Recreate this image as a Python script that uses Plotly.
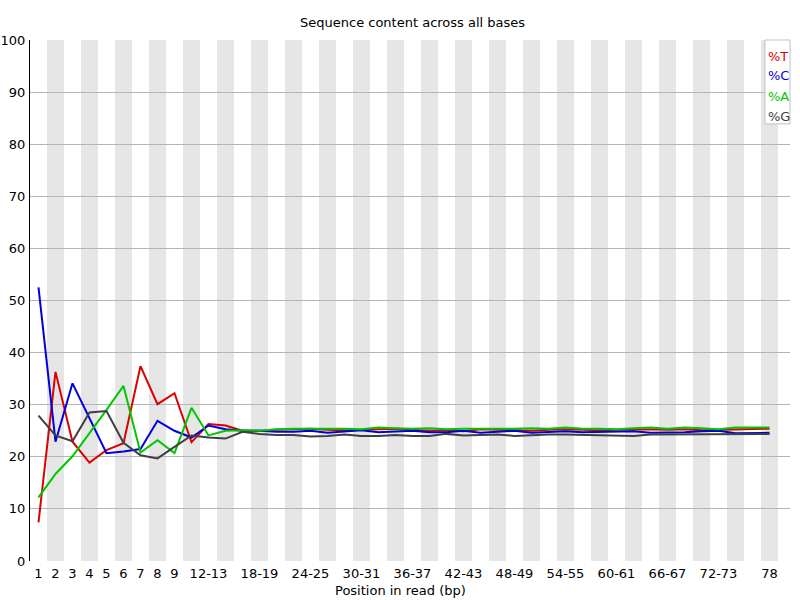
import plotly.graph_objects as go

categories = ["1", "2", "3", "4", "5", "6", "7", "8", "9"] + \
    [f"{a}-{a+1}" for a in range(10, 78, 2)] + ["78"]

tick_labels = ["1", "2", "3", "4", "5", "6", "7", "8", "9", "12-13", "18-19", "24-25",
               "30-31", "36-37", "42-43", "48-49", "54-55", "60-61", "66-67", "72-73", "78"]

pct_T = [7.4, 36.3, 22.9, 18.9, 21.3, 22.6, 37.4, 30.1, 32.2, 22.8, 26.3, 26.0, 25.0,
         25.0, 25.2, 25.3, 25.4, 25.2, 25.1, 25.2, 25.3, 25.4, 25.2, 25.0, 25.1, 24.9, 25.3,
         25.2, 25.1, 25.0, 25.2, 25.3, 25.2, 25.1, 25.2, 25.3, 25.3, 25.2, 25.3, 25.1, 25.2,
         25.3, 25.3, 25.4]
pct_C = [52.5, 22.9, 34.1, 27.5, 20.7, 21.0, 21.5, 26.9, 25.0, 23.7, 26.0, 25.3, 25.0,
         25.0, 24.8, 24.8, 25.0, 24.6, 24.9, 25.1, 24.7, 24.9, 25.0, 24.7, 24.7, 25.0, 24.6,
         24.8, 25.0, 24.6, 24.8, 24.9, 24.7, 24.8, 24.9, 24.9, 24.6, 24.6, 24.7, 24.9, 25.0,
         24.5, 24.6, 24.6]
pct_A = [12.2, 16.7, 20.1, 24.5, 29.0, 33.6, 20.8, 23.2, 20.7, 29.4, 24.1, 25.0, 25.1,
         25.0, 25.3, 25.4, 25.4, 25.5, 25.4, 25.3, 25.6, 25.5, 25.4, 25.5, 25.3, 25.4, 25.4,
         25.3, 25.4, 25.5, 25.4, 25.6, 25.4, 25.4, 25.3, 25.5, 25.6, 25.4, 25.6, 25.5, 25.3,
         25.6, 25.6, 25.6]
pct_G = [27.9, 24.1, 23.0, 28.5, 28.8, 22.7, 20.3, 19.7, 21.9, 24.1, 23.7, 23.5, 24.8,
         24.4, 24.2, 24.2, 23.9, 24.0, 24.3, 24.0, 24.0, 24.2, 24.0, 24.0, 24.4, 24.1, 24.2,
         24.3, 24.0, 24.2, 24.3, 24.3, 24.2, 24.2, 24.0, 24.0, 24.3, 24.3, 24.4, 24.4, 24.3,
         24.4, 24.3, 24.4]

series_names = ["%T", "%C", "%A", "%G"]
series_values = [pct_T, pct_C, pct_A, pct_G]
series_colors = ["rgb(220,0,0)", "rgb(0,0,220)", "rgb(0,200,0)", "rgb(64,64,64)"]

FONT = "DejaVu Sans"
FS = 13
n = len(categories)
xs = list(range(n))

fig = go.Figure()
for name, vals, col in zip(series_names, series_values, series_colors):
    fig.add_trace(go.Scatter(x=xs, y=vals, mode="lines", name=name,
                             line=dict(color=col, width=2), showlegend=False,
                             hoverinfo="skip"))

shapes = []
for i in range(1, n, 2):
    shapes.append(dict(type="rect", xref="x", yref="y", x0=i - 0.5, x1=i + 0.5,
                       y0=0, y1=100, fillcolor="rgb(230,230,230)", line_width=0,
                       layer="below"))
# legend box
shapes.append(dict(type="rect", xref="paper", yref="paper", x0=0.967, x1=1.0,
                   y0=0.839, y1=1.0, fillcolor="white",
                   line=dict(color="rgb(192,192,192)", width=1), layer="above"))

annotations = []
leg_y = [0.969, 0.931, 0.8925, 0.854]
for name, col, yy in zip(series_names, series_colors, leg_y):
    annotations.append(dict(text=name, xref="paper", yref="paper", x=0.9685, y=yy,
                            xanchor="left", yanchor="middle", showarrow=False,
                            font=dict(family=FONT, size=FS, color=col)))
annotations.append(dict(text="Sequence content across all bases", xref="paper",
                        yref="paper", x=0.503, y=1.0, yshift=18, xanchor="center",
                        yanchor="middle", showarrow=False,
                        font=dict(family=FONT, size=FS, color="black")))
annotations.append(dict(text="Position in read (bp)", xref="paper", yref="paper",
                        x=0.487, y=0, yshift=-29, xanchor="center", yanchor="middle",
                        showarrow=False, font=dict(family=FONT, size=FS, color="black")))

tick_idx = [categories.index(t) for t in tick_labels]

fig.update_layout(
    width=800, height=600,
    margin=dict(l=30, r=10, t=40, b=39, autoexpand=False),
    paper_bgcolor="white", plot_bgcolor="white",
    font=dict(family=FONT, size=FS, color="black"),
    shapes=shapes, annotations=annotations,
    xaxis=dict(range=[-0.5, -0.5 + 760 / 17], tickmode="array", tickvals=tick_idx,
               ticktext=tick_labels, showgrid=False, zeroline=False, showline=False,
               ticks="", ticklabelstandoff=3,
               tickfont=dict(family=FONT, size=FS, color="black"), fixedrange=True),
    yaxis=dict(range=[0, 100], tickmode="array", tickvals=list(range(0, 101, 10)),
               showgrid=True, gridcolor="rgb(180,180,180)", gridwidth=1,
               zeroline=False, showline=True, linecolor="black", linewidth=1,
               ticks="", ticklabelstandoff=1,
               tickfont=dict(family=FONT, size=FS, color="black"), fixedrange=True),
)

fig.write_html("out.html", config={"displayModeBar": False},
               post_script="document.body.style.margin='0px';"
                           "document.body.style.padding='0px';"
                           "document.body.style.overflow='hidden';")
